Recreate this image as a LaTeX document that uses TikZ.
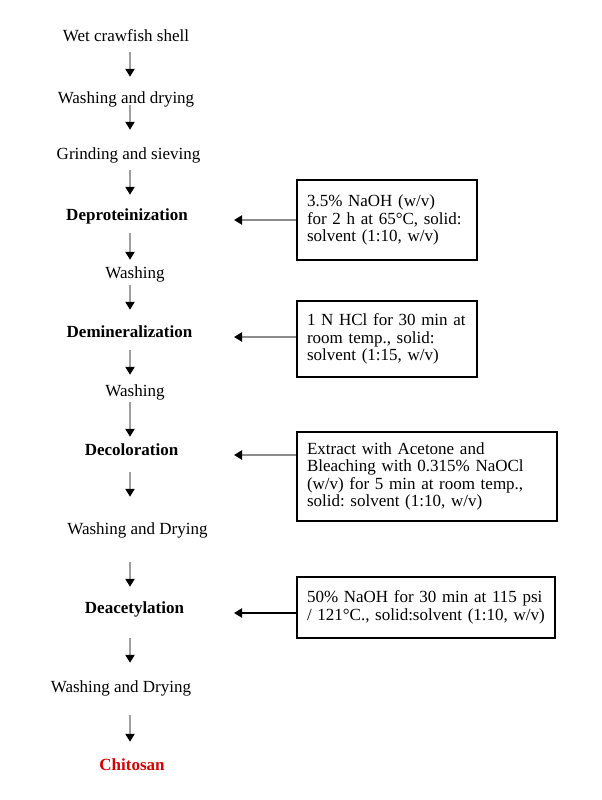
\documentclass[tikz,border=0pt]{standalone}
\usepackage{fontspec}
\setmainfont{Liberation Serif}
\usetikzlibrary{arrows.meta, positioning}
\frenchspacing

\tikzset{
  stepnode/.style={font=\fontsize{17}{17.5}\selectfont, inner sep=0pt, text height=12pt, text depth=4pt, anchor=base},
  stage/.style={stepnode, font=\fontsize{17}{17.5}\selectfont\bfseries},
  cond/.style={draw, line width=1.8pt, font=\fontsize{17}{17.5}\selectfont, align=left, inner xsep=10pt, inner ysep=0pt},
  flow/.style={draw=gray!75, line width=2pt, -{Triangle[length=8pt,width=9pt,black]}},
  feed/.style={draw=gray!90, line width=2pt, -{Triangle[length=8pt,width=9pt,black]}}
}

\begin{document}
\begin{tikzpicture}[x=1pt, y=-1pt]
\useasboundingbox (0,0) rectangle (602,800);

% columns for the arrows
\coordinate (spine) at (130,0);
\coordinate (tipcol) at (234,0);

% Main sequence, set down the left side
\node[stepnode] (wet) at (126,42) {Wet crawfish shell};
\node[stepnode] (wash1) at (126,103) {Washing and drying};
\node[stepnode] (grind) at (128.5,159) {Grinding and sieving};
\node[stage] (deprot) at (127,220) {Deproteinization};
\node[stepnode] (wash2) at (135,278) {Washing};
\node[stage] (demin) at (129.5,337) {Demineralization};
\node[stepnode] (wash3) at (135,396) {Washing};
\node[stage] (decol) at (131.5,455) {Decoloration};
\node[stepnode] (wash4) at (137.5,534) {Washing and Drying};
\node[stage] (deacet) at (134.5,613) {Deacetylation};
\node[stepnode] (wash5) at (121,692) {Washing and Drying};
\node[stage, text=red!85!black] (chito) at (132,770) {Chitosan};

% Conditions (boxes on the right)
\node[cond, text width=160pt, minimum height=80pt] (box1) at (387,220)
  {3.5\% NaOH (w/v)\\for 2 h at 65°C, solid:\\solvent (1:10, w/v)};
\node[cond, text width=160pt, minimum height=76pt] (box2) at (387,339)
  {1 N HCl for 30 min at\\room temp., solid:\\solvent (1:15, w/v)};
\node[cond, text width=240pt, minimum height=89pt] (box3) at (427,476.5)
  {Extract with Acetone and\\Bleaching with 0.315\% NaOCl\\(w/v) for 5 min at room temp.,\\solid: solvent (1:10, w/v)};
\node[cond, text width=238pt, minimum height=61pt] (box4) at (426,607.5)
  {50\% NaOH for 30 min at 115 psi\\/ 121°C., solid:solvent (1:10, w/v)};

% Down arrows
\foreach \na/\nb/\sa/\sb in {wet/wash1/6/14, wash1/grind/-2/17, grind/deprot/7/13,
    deprot/wash2/9/6, wash2/demin/3/15, demin/wash3/9/9, wash3/decol/2/6,
    decol/wash4/13/25, wash4/deacet/24/14, deacet/wash5/21/17, wash5/chito/19/16}
{
    \draw[flow, shorten <=\sa pt, shorten >=\sb pt] (\na.south -| spine) -- (\nb.north -| spine);
}

% Arrows from the boxes
\draw[feed] (box1.west |- deprot.base) -- (tipcol |- deprot.base);
\draw[feed] (box2.west |- demin.base) -- (tipcol |- demin.base);
\draw[feed] (box3.west |- decol.base) -- (tipcol |- decol.base);
\draw[feed, draw=black] (box4.west |- deacet.base) -- (tipcol |- deacet.base);

\end{tikzpicture}
\end{document}
